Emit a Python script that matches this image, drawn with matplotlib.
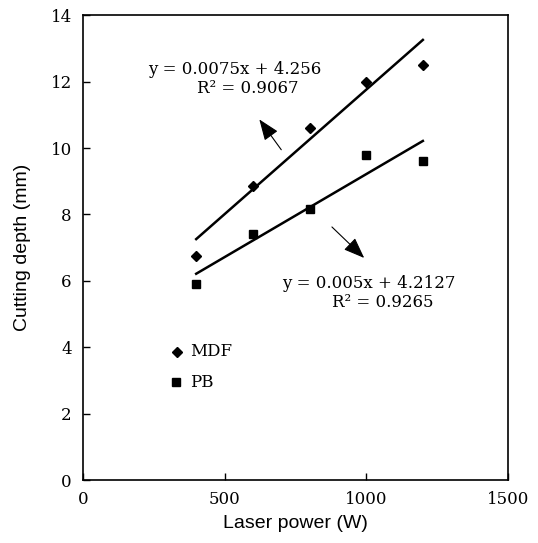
import numpy as np
from matplotlib import pyplot as plt

# data
power = [400, 600, 800, 1000, 1200]
mdf_depth = [6.75, 8.85, 10.6, 12.0, 12.5]
pb_depth = [5.9, 7.4, 8.15, 9.8, 9.6]

# trend lines as printed on the chart
mdf_fit = (0.0075, 4.256)
pb_fit = (0.005, 4.2127)

serif = 'DejaVu Serif'
sans = 'Liberation Sans'

fig = plt.figure(figsize=(5.38, 5.43), dpi=100)
ax = fig.add_axes([0.154, 0.116, 0.79, 0.856])

ax.plot(power, mdf_depth, 'D', color='black', markersize=5.5, linestyle='none')
ax.plot(power, pb_depth, 's', color='black', markersize=6, linestyle='none')

xs = np.array([power[0], power[-1]])
ax.plot(xs, mdf_fit[0] * xs + mdf_fit[1], color='black', lw=1.8)
ax.plot(xs, pb_fit[0] * xs + pb_fit[1], color='black', lw=1.8)

ax.text(535, 12.35, 'y = 0.0075x + 4.256', family=serif, fontsize=12, ha='center', va='center')
ax.text(581, 11.8, 'R² = 0.9067', family=serif, fontsize=12, ha='center', va='center')
ax.text(1011, 5.93, 'y = 0.005x + 4.2127', family=serif, fontsize=12, ha='center', va='center')
ax.text(1057, 5.36, 'R² = 0.9265', family=serif, fontsize=12, ha='center', va='center')

ax.annotate('', xy=(617, 10.93), xytext=(706, 9.88),
            arrowprops=dict(arrowstyle='-|>,head_length=1.3,head_width=0.5', color='black', lw=0.8))
ax.annotate('', xy=(1000, 6.63), xytext=(872, 7.68),
            arrowprops=dict(arrowstyle='-|>,head_length=1.3,head_width=0.5', color='black', lw=0.8))

# legend drawn as text, like the original
ax.plot([333], [3.86], 'D', color='black', markersize=5.5)
ax.plot([330], [2.95], 's', color='black', markersize=6)
ax.text(380, 3.86, 'MDF', family=serif, fontsize=12, va='center')
ax.text(380, 2.95, 'PB', family=serif, fontsize=12, va='center')

ax.set_xlim(0, 1500)
ax.set_ylim(0, 14)
ax.set_xticks([0, 500, 1000, 1500])
ax.set_yticks([0, 2, 4, 6, 8, 10, 12, 14])
ax.tick_params(direction='in', length=5, width=1, labelsize=12, pad=8)
for lab in ax.get_xticklabels() + ax.get_yticklabels():
    lab.set_family(serif)
for s in ax.spines.values():
    s.set_linewidth(1.2)

ax.set_xlabel('Laser power (W)', family=sans, fontsize=14, labelpad=5)
ax.set_ylabel('Cutting depth (mm)', family=sans, fontsize=14, labelpad=14)

plt.savefig('out.png', dpi=100)
